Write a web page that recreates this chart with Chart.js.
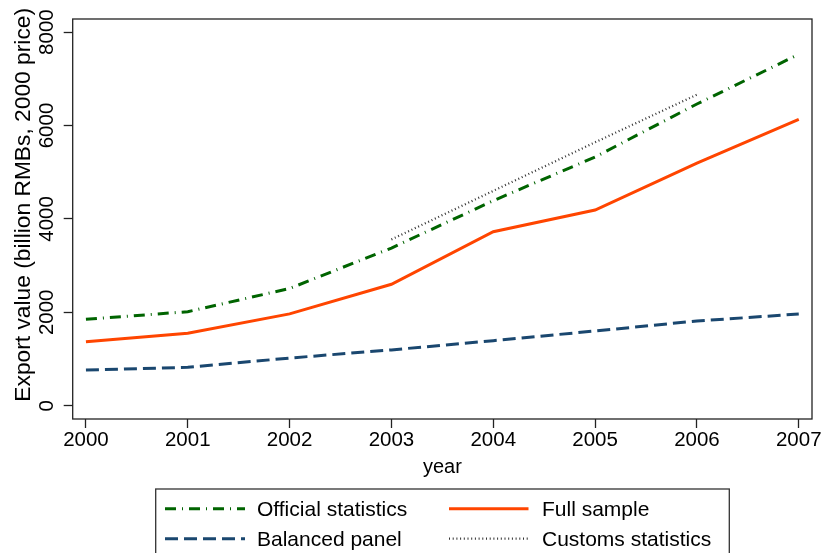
<!DOCTYPE html>
<html>
<head>
<meta charset="utf-8">
<style>
  html, body { margin: 0; padding: 0; background: #fff; }
  #c { display: block; }
</style>
<script src="https://cdn.jsdelivr.net/npm/chart.js@4.4.1/dist/chart.umd.min.js"></script>
</head>
<body>
<canvas id="c" width="823" height="553"></canvas>
<script>
// ---- data ----
const years = [2000, 2001, 2002, 2003, 2004, 2005, 2006, 2007];
const officialStats = [1850, 2013, 2510, 3376, 4390, 5325, 6460, 7524];
const fullSample   = [1370, 1550, 1966, 2599, 3725, 4190, 5192, 6131];
const balancedPanel = [764, 822, 1020, 1195, 1392, 1600, 1813, 1963];
const customsStats = [null, null, null, 3560, 4600, 5640, 6660, null];
const yTickValues = [0, 2000, 4000, 6000, 8000];
const xTitle = 'year';
const yTitle = 'Export value (billion RMBs, 2000 price)';
const labels = ['Official statistics', 'Full sample', 'Balanced panel', 'Customs statistics'];

const FONT = "'Liberation Sans', Arial, Helvetica, sans-serif";

function pts(arr) {
  return years.map((yr, i) => ({ x: yr, y: arr[i] }));
}

const datasets = [
  { label: labels[2], data: pts(balancedPanel), borderColor: '#1a476f', borderWidth: 3, borderDash: [13, 6] },
  { label: labels[0], data: pts(officialStats), borderColor: '#006400', borderWidth: 3, borderDash: [11, 6, 1, 6] },
  { label: labels[1], data: pts(fullSample), borderColor: '#ff4500', borderWidth: 3, borderDash: [] },
  { label: labels[3], data: pts(customsStats), borderColor: '#333333', borderWidth: 2.2, borderDash: [1, 2.7] }
];
datasets.forEach(d => { d.pointRadius = 0; d.tension = 0; d.fill = false; d.spanGaps = false; d.borderCapStyle = 'butt'; });

const framePlugin = {
  id: 'frame',
  afterDraw(chart) {
    const ctx = chart.ctx;
    const a = chart.chartArea;
    const ys = chart.scales.y;
    ctx.save();
    // plot region box
    ctx.strokeStyle = '#222';
    ctx.lineWidth = 1.3;
    ctx.strokeRect(a.left, a.top, a.right - a.left, a.bottom - a.top);

    // rotated y tick labels
    ctx.fillStyle = '#000';
    ctx.font = '20.5px ' + FONT;
    ctx.textAlign = 'center';
    ctx.textBaseline = 'alphabetic';
    yTickValues.forEach(v => {
      const py = ys.getPixelForValue(v);
      ctx.save();
      ctx.translate(53.3, py);
      ctx.rotate(-Math.PI / 2);
      ctx.fillText(String(v), 0, 0);
      ctx.restore();
    });

    // y axis title
    ctx.font = '20px ' + FONT;
    const w20 = ctx.measureText(yTitle).width;
    const fs = 20 * 394 / w20;
    ctx.font = fs.toFixed(2) + 'px ' + FONT;
    const w = ctx.measureText(yTitle).width;
    ctx.save();
    ctx.translate(30, 401.7 - w / 2);
    ctx.rotate(-Math.PI / 2);
    ctx.fillText(yTitle, 0, 0);
    ctx.restore();

    // x axis title
    ctx.font = '20px ' + FONT;
    ctx.textAlign = 'center';
    ctx.fillText(xTitle, (a.left + a.right) / 2, 473);

    // legend
    ctx.strokeStyle = '#333';
    ctx.lineWidth = 1.3;
    ctx.strokeRect(155.7, 489, 729.3 - 155.7, 80);
    const order = [
      { ds: 1, x0: 165, x1: 245, tx: 257, y: 508.7 },
      { ds: 2, x0: 449, x1: 528.5, tx: 542, y: 508.7 },
      { ds: 0, x0: 165, x1: 245, tx: 257, y: 538.7 },
      { ds: 3, x0: 449, x1: 528.5, tx: 542, y: 538.7 }
    ];
    ctx.font = '21px ' + FONT;
    ctx.textAlign = 'left';
    order.forEach(o => {
      const d = chart.data.datasets[o.ds];
      ctx.save();
      ctx.strokeStyle = d.borderColor;
      ctx.lineWidth = d.borderWidth;
      ctx.setLineDash(d.borderDash);
      ctx.lineCap = 'butt';
      ctx.beginPath();
      ctx.moveTo(o.x0, o.y);
      ctx.lineTo(o.x1, o.y);
      ctx.stroke();
      ctx.restore();
      ctx.fillStyle = '#000';
      ctx.fillText(d.label, o.tx, o.y + 7.5);
    });
    ctx.restore();
  }
};

new Chart(document.getElementById('c'), {
  type: 'line',
  data: { datasets },
  options: {
    responsive: false,
    animation: false,
    devicePixelRatio: 1,
    layout: { padding: { top: 19, right: 11, left: 0, bottom: 0 } },
    plugins: { legend: { display: false }, tooltip: { enabled: false }, title: { display: false } },
    scales: {
      x: {
        type: 'linear',
        min: 1999.87,
        max: 2007.13,
        afterBuildTicks: s => { s.ticks = years.map(v => ({ value: v })); },
        afterFit: s => { s.height = 134; },
        ticks: {
          color: '#000',
          font: { family: FONT, size: 20.5 },
          padding: 0,
          maxRotation: 0,
          minRotation: 0,
          autoSkip: false,
          callback: v => String(v)
        },
        grid: { display: true, drawOnChartArea: false, drawTicks: true, tickLength: 9, tickColor: '#222', tickWidth: 1.3 },
        border: { display: false }
      },
      y: {
        type: 'linear',
        min: -285,
        max: 8280,
        afterBuildTicks: s => { s.ticks = yTickValues.map(v => ({ value: v })); },
        afterFit: s => { s.width = 72.7; },
        ticks: { display: false },
        grid: { display: true, drawOnChartArea: false, drawTicks: true, tickLength: 9, tickColor: '#222', tickWidth: 1.3 },
        border: { display: false }
      }
    }
  },
  plugins: [framePlugin]
});
</script>
</body>
</html>
